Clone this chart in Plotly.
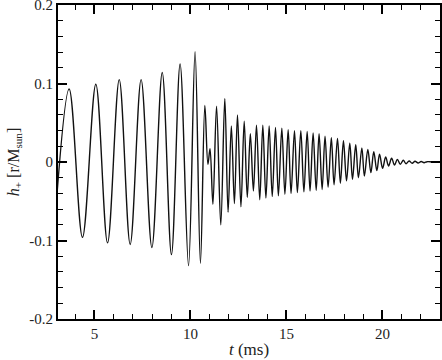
import plotly.graph_objects as go

# Extrema of the waveform (time in ms, strain h+)
t_ms = [2.90, 3.68, 4.375, 5.07, 5.68, 6.29, 6.86, 7.43, 7.99, 8.53, 9.01, 9.46, 9.90,
        10.24, 10.52, 10.75, 10.91, 11.02, 11.17, 11.36, 11.58, 11.79, 11.96, 12.13,
        12.29, 12.45, 12.63, 12.80, 12.96, 13.12, 13.28, 13.44, 13.61, 13.77, 13.93,
        14.10, 14.26, 14.43, 14.58, 14.76, 14.92, 15.09, 15.24, 15.42, 15.57, 15.75,
        15.91, 16.08, 16.23, 16.39, 16.55, 16.70, 16.86, 17.01, 17.17, 17.34, 17.48,
        17.66, 17.81, 17.97, 18.13, 18.30, 18.44, 18.61, 18.75, 18.93, 19.06, 19.24,
        19.40, 19.55, 19.71, 19.85, 20.01, 20.17, 20.32, 20.48, 20.63, 20.78, 20.93,
        21.09, 21.23, 21.39, 21.55, 21.70, 21.86, 22.02, 22.17, 22.33, 22.60, 23.00]
h_plus = [-0.090, 0.093, -0.096, 0.099, -0.103, 0.105, -0.105, 0.105, -0.109, 0.114,
          -0.118, 0.125, -0.132, 0.1405, -0.129, 0.072, -0.003, 0.017, -0.054, 0.071,
          -0.080, 0.081, -0.064, 0.046, -0.053, 0.060, -0.057, 0.052, -0.045, 0.036,
          -0.037, 0.047, -0.048, 0.047, -0.046, 0.046, -0.044, 0.044, -0.043, 0.043,
          -0.041, 0.041, -0.040, 0.040, -0.039, 0.040, -0.038, 0.039, -0.037, 0.037,
          -0.036, 0.036, -0.035, 0.033, -0.032, 0.031, -0.029, 0.030, -0.027, 0.027,
          -0.024, 0.024, -0.022, 0.022, -0.020, 0.018, -0.018, 0.016, -0.0135, 0.013,
          -0.011, 0.010, -0.008, 0.0063, -0.005, 0.0047, -0.0038, 0.0034, -0.0029,
          0.0022, -0.0022, 0.0013, -0.0016, 0.0009, -0.0013, 0.0006, -0.0009, 0.0004,
          0.0, 0.0]

x_tickvals = [5, 10, 15, 20]
x_ticktext = ["5", "10", "15", "20"]
y_tickvals = [-0.2, -0.1, 0, 0.1, 0.2]
y_ticktext = ["-0.2", "-0.1", "0", "0.1", "0.2"]

FONT = "Liberation Serif"

fig = go.Figure()
fig.add_trace(go.Scatter(
    x=t_ms, y=h_plus, mode="lines",
    line=dict(color="#111111", width=1.4, shape="spline", smoothing=1.0),
    showlegend=False, hoverinfo="skip",
))

axis_common = dict(
    showgrid=False, zeroline=False, showline=True, linecolor="black", linewidth=2,
    mirror="allticks", ticks="inside", ticklen=9, tickwidth=1.5, tickcolor="black",
    tickfont=dict(family=FONT, size=15, color="#222222"), automargin=False,
    ticklabeloverflow="allow",
)

fig.update_xaxes(
    range=[3.1, 23.0], tickvals=x_tickvals, ticktext=x_ticktext,
    minor=dict(dtick=1, ticklen=5, tickwidth=1.3, tickcolor="black", ticks="inside", showgrid=False),
    title=dict(text="<i>t</i> (ms)", font=dict(family=FONT, size=17, color="#222222"), standoff=2),
    **axis_common,
)
fig.update_yaxes(
    range=[-0.2, 0.2], tickvals=y_tickvals, ticktext=y_ticktext,
    minor=dict(dtick=0.02, ticklen=5, tickwidth=1.3, tickcolor="black", ticks="inside", showgrid=False),
    title=dict(text="<i>h</i><sub>+</sub> [r/M<sub>sun</sub>]",
               font=dict(family=FONT, size=16, color="#222222"), standoff=6),
    **axis_common,
)

fig.update_layout(
    width=442, height=360,
    margin=dict(l=58, r=2, t=5, b=41, autoexpand=False),
    paper_bgcolor="white", plot_bgcolor="white",
)

fig.write_html(
    "out.html",
    config={"displayModeBar": False, "responsive": False},
    post_script="document.body.style.margin='0';document.body.style.overflow='hidden';",
)
